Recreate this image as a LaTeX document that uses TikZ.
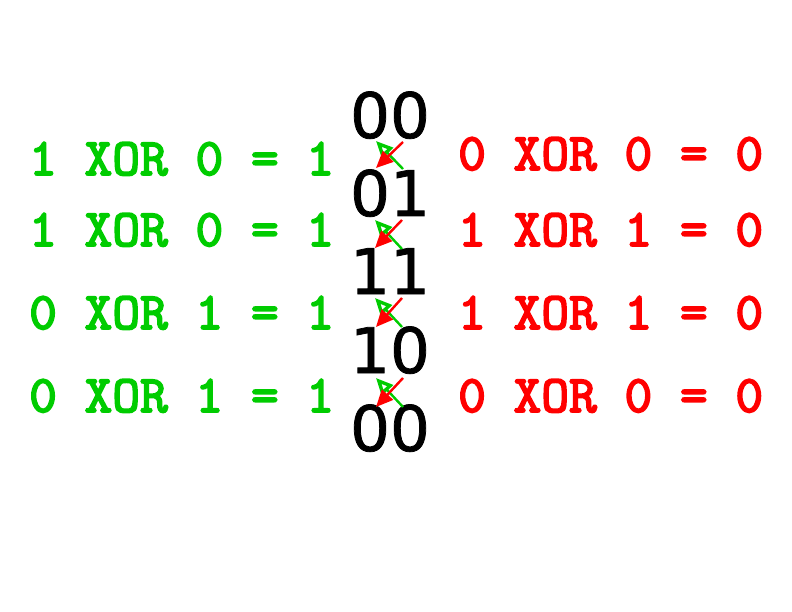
\documentclass[tikz,border=0pt]{standalone}
\usepackage{fontspec}
\newfontfamily\digitfont{DejaVu Sans}[FakeBold=1.2]
\newfontfamily\eqfont{lmmono10-regular.otf}[FakeBold=3.2]
\usetikzlibrary{arrows.meta}
\definecolor{xgreen}{RGB}{0,204,0}
\definecolor{xred}{RGB}{255,0,0}
\tikzset{
  eqtext/.style={anchor=base west, inner sep=0pt, font=\eqfont\fontsize{53}{53}\selectfont},
  gtext/.style={eqtext, text=xgreen},
  rtext/.style={eqtext, text=xred},
  statebox/.style={anchor=base, inner sep=0pt, font=\digitfont\fontsize{63}{63}\selectfont},
  garrow/.style={draw=xgreen, line width=2.4bp, -{Triangle[open, length=17bp, width=15bp, line width=3.4bp]}},
  rarrow/.style={draw=xred, line width=2.4bp, -{Triangle[length=17bp, width=15bp]}}
}
\begin{document}
\begin{tikzpicture}[x=1bp, y=-1bp]
\useasboundingbox (0,0) rectangle (792,612);
% states
\node[statebox] (s0) at (390,138) {00};
\node[statebox] (s1) at (390,216) {01};
\node[statebox] (s2) at (390,294) {11};
\node[statebox] (s3) at (390,373) {10};
\node[statebox] (s4) at (390,451) {00};
% left equations
\node[gtext] (g1) at (29,175) {1 XOR 0 = 1};
\node[gtext] (g2) at (29,246) {1 XOR 0 = 1};
\node[gtext] (g3) at (29,329) {0 XOR 1 = 1};
\node[gtext] (g4) at (29,412) {0 XOR 1 = 1};
% right equations
\node[rtext] (r1) at (458,170) {0 XOR 0 = 0};
\node[rtext] (r2) at (458,246) {1 XOR 1 = 0};
\node[rtext] (r3) at (458,329) {1 XOR 1 = 0};
\node[rtext] (r4) at (458,412) {0 XOR 0 = 0};
% arrow ends
\coordinate (a1t) at (376,141); \coordinate (a1b) at (376,168);
\coordinate (b1t) at (403,142); \coordinate (b1b) at (403,169);
\coordinate (a2t) at (375,220); \coordinate (a2b) at (375,248);
\coordinate (b2t) at (402,220); \coordinate (b2b) at (402,249);
\coordinate (a3t) at (375,298); \coordinate (a3b) at (376,327);
\coordinate (b3t) at (402,298); \coordinate (b3b) at (402,327);
\coordinate (a4t) at (376,378); \coordinate (a4b) at (376,407);
\coordinate (b4t) at (403,378); \coordinate (b4b) at (403,407);
\foreach \i in {1,2,3,4} {
  \draw[garrow] (b\i b) -- (a\i t);
  \draw[rarrow] (b\i t) -- (a\i b);
}
\end{tikzpicture}
\end{document}
